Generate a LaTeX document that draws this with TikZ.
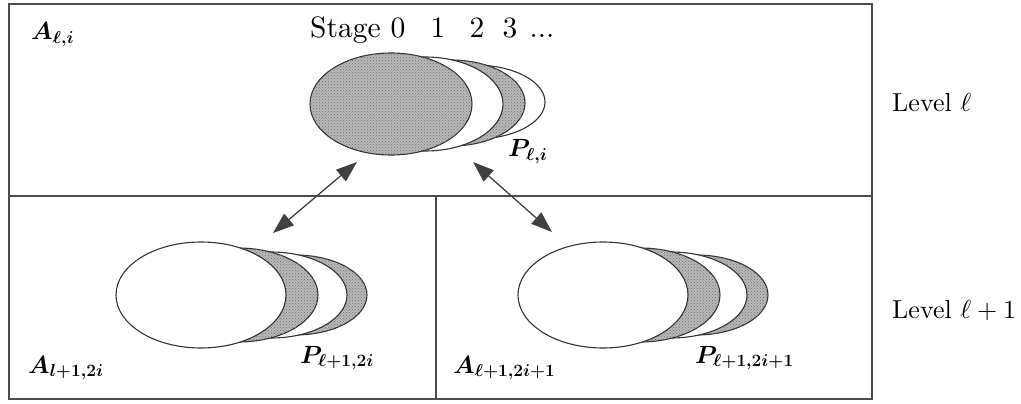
\documentclass[tikz,border=0pt]{standalone}
\usepackage{amsmath}
\usepackage{graphicx}
\usetikzlibrary{arrows.meta,shapes.geometric,patterns}
\begin{document}
\begin{tikzpicture}[x=1pt,y=-1pt,
  frame/.style={draw=black!70,line width=1.4pt},
  stg/.style={shape=ellipse,draw=black!80,line width=1.1pt,inner sep=0pt},
  grayst/.style={stg,fill=black!28,postaction={pattern=crosshatch dots,pattern color=black!55}},
  whitest/.style={stg,fill=white},
  lab/.style={anchor=base west,inner sep=0pt,font=\normalsize},
  mlab/.style={lab,font=\fontsize{24}{28}\selectfont\mathversion{bold}},
  link/.style={draw=black!75,line width=1.3pt,{Triangle[length=21pt,width=15pt]}-{Triangle[length=21pt,width=15pt]}}
]
\useasboundingbox (0,0) rectangle (1021,404);
% frame
\draw[frame] (9,4) rectangle (872,399);
\draw[frame] (9,196) -- (872,196);
\draw[frame] (436,196) -- (436,399);

% top group (stages 3,2,1,0 back to front)
\node[whitest,minimum width=140pt,minimum height=74pt] (t3) at (475,102) {};
\node[grayst,minimum width=148pt,minimum height=86pt] (t2) at (451,103) {};
\node[whitest,minimum width=156pt,minimum height=94pt] (t1) at (425,104) {};
\node[grayst,minimum width=162pt,minimum height=102pt] (t0) at (391,104) {};

% bottom-left group
\node[grayst,minimum width=144pt,minimum height=80pt] (l3) at (295,295) {};
\node[whitest,minimum width=152pt,minimum height=86pt] (l2) at (271,295) {};
\node[grayst,minimum width=160pt,minimum height=94pt] (l1) at (238,295) {};
\node[whitest,minimum width=170pt,minimum height=106pt] (l0) at (201,295) {};

% bottom-right group
\node[grayst,minimum width=144pt,minimum height=80pt] (r3) at (696,295) {};
\node[whitest,minimum width=152pt,minimum height=86pt] (r2) at (671,295) {};
\node[grayst,minimum width=160pt,minimum height=94pt] (r1) at (640,295) {};
\node[whitest,minimum width=170pt,minimum height=106pt] (r0) at (603,295) {};

% arrows
\coordinate (aL1) at (357,162);
\coordinate (aL2) at (273,233);
\coordinate (aR1) at (473,162);
\coordinate (aR2) at (552,232);
\draw[link] (aL1) -- (aL2);
\draw[link] (aR1) -- (aR2);

% labels
\node[lab] (stage) at (310,38) {\scalebox{2.95}{Stage 0\hspace{8.6pt}1\hspace{8.2pt}2\hspace{6.2pt}3\hspace{4.2pt}...}};
\node[mlab] (Ati) at (31,40) {$A_{\ell,i}$};
\node[mlab] (Pti) at (508,157) {$P_{\ell,i}$};
\node[lab] (lev1) at (892,112) {\scalebox{2.6}{Level $\ell$}};
\node[lab] (lev2) at (892,318) {\scalebox{2.6}{Level $\ell+1$}};
\node[mlab] (All) at (28,373) {$A_{l+1,2i}$};
\node[mlab] (Pll) at (300,363) {$P_{\ell+1,2i}$};
\node[mlab] (Arr) at (453,373) {$A_{\ell+1,2i+1}$};
\node[mlab] (Prr) at (695,363) {$P_{\ell+1,2i+1}$};
\end{tikzpicture}
\end{document}
